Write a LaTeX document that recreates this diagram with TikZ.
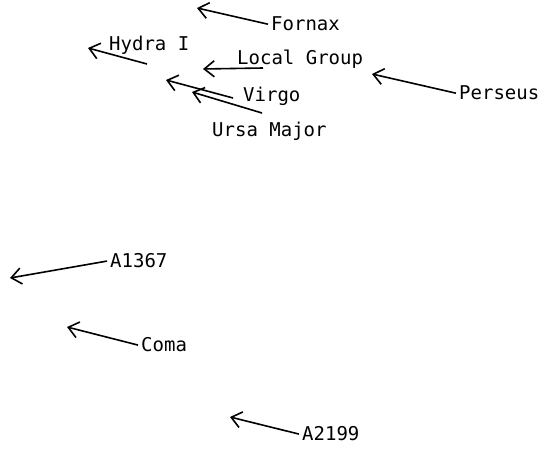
\documentclass[tikz,border=0pt]{standalone}
\usepackage{fontspec}
\setmonofont{DejaVu Sans Mono}
\usetikzlibrary{arrows.meta}

\tikzset{
  lbl/.style={font=\ttfamily\fontsize{19}{20}\selectfont, inner xsep=3pt, inner ysep=0pt, anchor=base west},
  flow/.style={line width=1.6pt, -{Straight Barb[length=10pt,width=16pt,line width=1.6pt]}}
}

\begin{document}
\begin{tikzpicture}[x=1pt,y=-1pt]
\useasboundingbox (0,0) rectangle (542,449);

% Labels
\node[lbl] (fornax)  at (268,31)  {Fornax};
\node[lbl] (hydra)   at (106,51)  {Hydra I};
\node[lbl] (local)   at (234,65)  {Local Group};
\node[lbl] (virgo)   at (240,102) {Virgo};
\node[lbl] (ursa)    at (209,137) {Ursa Major};
\node[lbl] (perseus) at (456,100) {Perseus};
\node[lbl] (abell1)  at (107,268) {A1367};
\node[lbl] (coma)    at (138,352) {Coma};
\node[lbl] (abell2)  at (299,441) {A2199};

% Arrow ends
\coordinate (fornax tip)  at (197,8);
\coordinate (hydra tail)  at (147,64);
\coordinate (hydra tip)   at (88,48);
\coordinate (local tail)  at (263,68);
\coordinate (local tip)   at (203,69);
\coordinate (virgo tail)  at (233,98);
\coordinate (virgo tip)   at (166,80);
\coordinate (ursa tail)   at (262,113);
\coordinate (ursa tip)    at (192,92);
\coordinate (perseus tip) at (372,74);
\coordinate (abell1 tip)  at (10,278);
\coordinate (coma tip)    at (67,327);
\coordinate (abell2 tip)  at (230,417);

% Arrows
\draw[flow] (fornax.west) -- (fornax tip);
\draw[flow] (hydra tail) -- (hydra tip);
\draw[flow] (local tail) -- (local tip);
\draw[flow] (virgo tail) -- (virgo tip);
\draw[flow] (ursa tail) -- (ursa tip);
\draw[flow] (perseus.west) -- (perseus tip);
\draw[flow] (abell1.west) -- (abell1 tip);
\draw[flow] (coma.west) -- (coma tip);
\draw[flow] (abell2.west) -- (abell2 tip);

\end{tikzpicture}
\end{document}
